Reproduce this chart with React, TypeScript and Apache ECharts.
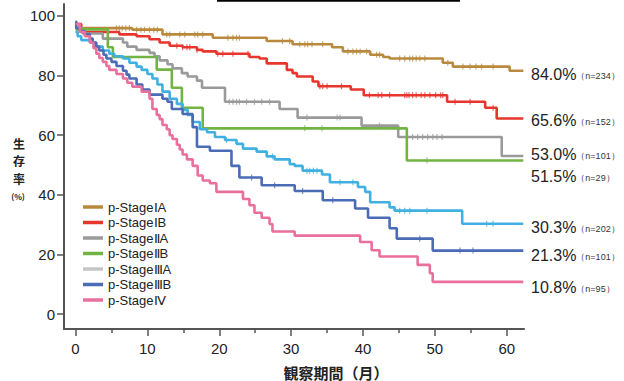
import React, { useEffect, useRef } from "react";
import * as echarts from "echarts";

// ---- data (months, survival %) ----
const END_T = 62.3;
const stageNames = ["p-StageⅠA", "p-StageⅠB", "p-StageⅡA", "p-StageⅡB", "p-StageⅢA", "p-StageⅢB", "p-StageⅣ"];
const lineColors = ["#b98a3e", "#e8352d", "#9a9a9a", "#72b443", "#3fb0e0", "#4a6bb5", "#e96f9c"];
const legendColors = ["#b98a3e", "#e8352d", "#9a9a9a", "#72b443", "#c6c6c6", "#4a6bb5", "#e96f9c"];
const endLabels = ["84.0%", "65.6%", "53.0%", "51.5%", "30.3%", "21.3%", "10.8%"];
const endCounts = ["（n=234）", "（n=152）", "（n=101）", "（n=29）", "（n=202）", "（n=101）", "（n=95）"];
const yTitleChars = ["生", "存", "率"];

const iaT = [0, 0.6, 7.9, 12.1, 19.1, 26.6, 30.2, 35.7, 37.2, 41.0, 42.8, 43.7, 51.1, 52.5, 60.4];
const iaV = [97.3, 95.9, 95.4, 93.8, 92.7, 91.6, 90.5, 89.5, 88.1, 87.0, 86.2, 85.7, 84.3, 83.0, 81.6];
const iaCensor = [5.7, 6.1, 6.5, 7.0, 7.5, 8.5, 9.1, 9.6, 10.3, 10.9, 11.4, 12.7, 13.1, 14.5, 15.2, 16.6, 17.0, 17.7, 21.2, 21.9, 22.4, 22.8, 28.8, 29.8, 31.2, 31.9, 32.3, 32.9, 34.4, 37.9, 38.6, 39.1, 39.6, 40.5, 41.9, 42.3, 45.1, 45.8, 46.5, 46.9, 47.4, 47.9, 48.6, 51.8, 53.9, 54.9, 55.7, 56.5, 58.1];

const ibT = [0, 0.8, 6.1, 8.5, 10.3, 11.7, 13.1, 14.9, 16.9, 17.7, 19.6, 24.2, 25.6, 26.6, 29.4, 30.2, 30.8, 33.0, 33.8, 38.3, 40.1, 51.7, 57.0, 58.6];
const ibV = [97.3, 94.6, 93.8, 93.2, 92.2, 91.1, 90.0, 89.5, 88.6, 88.1, 87.3, 86.2, 85.7, 84.1, 81.9, 80.8, 79.7, 78.0, 76.4, 75.3, 73.4, 71.2, 69.2, 65.6];
const ibCensor = [14.1, 14.9, 15.5, 15.9, 16.9, 19.8, 20.5, 21.9, 24.0, 34.0, 34.4, 35.0, 37.0, 40.9, 42.1, 42.6, 43.7, 45.8, 46.1, 46.4, 46.9, 47.4, 48.1, 48.6, 49.3, 50.1, 50.8, 51.1, 52.8, 54.9, 58.1];

const iiaT = [0, 1.0, 3.8, 6.6, 7.2, 8.5, 10.3, 11.0, 11.7, 12.8, 13.5, 14.8, 15.6, 16.9, 17.6, 20.8, 28.4, 30.9, 39.8, 44.9, 59.3];
const iiaV = [95.9, 94.1, 92.4, 91.1, 89.7, 88.6, 87.6, 86.5, 85.1, 83.8, 82.4, 80.8, 79.7, 78.3, 75.9, 71.2, 68.8, 65.9, 63.2, 59.4, 53.0];
const iiaCensor = [21.4, 21.9, 22.4, 22.8, 23.8, 24.9, 25.9, 27.0, 32.2, 36.4, 36.8, 42.3, 46.9, 47.6, 48.3, 49.0, 49.7, 50.3, 51.0];

const iibT = [0, 4.5, 5.2, 11.3, 13.4, 14.8, 17.7, 46.1];
const iibV = [95.5, 89.5, 86.2, 82.0, 75.9, 69.2, 62.3, 51.5];
const iibCensor = [31.9, 34.3, 48.9];

const iiiaT = [0, 0.3, 0.8, 2.0, 2.7, 3.8, 4.7, 5.4, 6.6, 7.5, 8.5, 9.2, 10.0, 10.7, 11.4, 12.1, 13.1, 14.1, 14.9, 15.6, 16.3, 17.3, 18.3, 19.4, 20.8, 22.4, 23.3, 25.2, 26.6, 27.7, 29.8, 30.5, 31.6, 34.3, 35.4, 39.3, 40.3, 41.0, 43.7, 44.4, 53.8];
const iiiaV = [94.6, 93.2, 91.9, 91.1, 89.7, 88.4, 87.3, 86.5, 85.7, 84.3, 83.0, 81.9, 80.5, 79.0, 77.0, 74.6, 72.2, 70.5, 68.5, 66.8, 64.4, 62.0, 61.0, 59.4, 58.4, 57.1, 55.5, 54.5, 52.9, 51.9, 50.3, 49.7, 48.1, 46.8, 44.2, 42.6, 41.0, 37.5, 35.8, 34.7, 30.3];
const iiiaCensor = [21.0, 27.4, 32.2, 32.6, 33.1, 33.6, 36.8, 38.6, 45.1, 45.8, 46.5, 48.9, 57.2, 58.1];

const iiibT = [0, 0.1, 0.6, 1.3, 2.0, 2.4, 2.9, 3.3, 3.9, 4.3, 5.0, 5.7, 6.6, 7.1, 7.5, 8.5, 9.3, 10.3, 12.1, 12.8, 13.4, 14.9, 16.3, 16.9, 18.7, 21.7, 22.8, 25.9, 30.5, 34.4, 38.9, 40.7, 43.7, 44.7, 49.7];
const iiibV = [98.1, 95.9, 94.9, 93.8, 92.4, 91.1, 89.7, 88.4, 87.0, 85.7, 84.6, 83.2, 81.6, 80.3, 79.0, 77.0, 75.3, 73.6, 72.2, 71.2, 68.8, 67.1, 62.7, 56.1, 54.8, 49.7, 45.8, 43.2, 41.3, 38.2, 35.4, 32.3, 28.8, 25.3, 21.3];
const iiibCensor = [24.5, 27.7, 31.6, 35.8, 47.9, 53.5, 55.3];

const ivT = [0, 0.6, 1.3, 2.0, 2.5, 2.9, 3.3, 3.8, 4.3, 4.7, 5.7, 6.6, 7.2, 7.9, 9.2, 10.3, 10.7, 11.3, 11.7, 12.1, 12.7, 13.1, 13.5, 14.1, 14.5, 14.9, 15.5, 16.3, 17.0, 17.7, 18.7, 19.6, 23.3, 24.2, 24.9, 25.9, 27.0, 27.4, 30.5, 39.6, 41.2, 42.3, 47.6, 49.3, 49.7];
const ivV = [97.3, 94.6, 93.2, 91.1, 89.2, 87.3, 85.9, 84.6, 83.2, 81.9, 80.5, 79.0, 77.6, 76.3, 74.6, 72.2, 68.8, 66.8, 65.4, 63.4, 62.0, 60.0, 58.7, 56.8, 55.2, 53.5, 51.9, 49.7, 46.5, 44.8, 43.9, 41.0, 38.6, 36.5, 34.0, 32.3, 30.2, 27.7, 26.3, 24.2, 21.4, 19.3, 16.5, 13.7, 10.8];
const ivCensor: number[] = [];

const xTickLabels = [0, 10, 20, 30, 40, 50, 60];
const xMinorTicks = [5, 15, 25, 35, 45, 55];
const yTickLabels = [0, 20, 40, 60, 80, 100];

const curves = [
  [iaT, iaV, iaCensor],
  [ibT, ibV, ibCensor],
  [iiaT, iiaV, iiaCensor],
  [iibT, iibV, iibCensor],
  [iiiaT, iiiaV, iiiaCensor],
  [iiibT, iiibV, iiibCensor],
  [ivT, ivV, ivCensor],
];

// label vertical centers (layout only)
const labelY = [74, 120, 154, 176, 227, 255, 287];

const LATIN = "'Liberation Sans', Arial, Helvetica, sans-serif";
const CJK = "'Noto Sans CJK JP', 'Noto Sans', sans-serif";

function stepData(T: number[], V: number[]) {
  const d = T.map((t, i) => [t, V[i]]);
  d.push([END_T, V[V.length - 1]]);
  return d;
}
function valueAt(T: number[], V: number[], t: number) {
  let v = V[0];
  for (let i = 0; i < T.length; i++) if (T[i] <= t) v = V[i];
  return v;
}

export default function App() {
  const ref = useRef<HTMLDivElement>(null);
  useEffect(() => {
    if (!ref.current) return;
    const chart = echarts.init(ref.current, null, { renderer: "svg" });
    const series: any[] = [];
    curves.forEach(([T, V, C], i) => {
      series.push({
        type: "line",
        name: stageNames[i],
        step: "end",
        data: stepData(T as number[], V as number[]),
        showSymbol: false,
        symbol: "none",
        lineStyle: { color: lineColors[i], width: 2.6 },
        itemStyle: { color: lineColors[i] },
        z: 3,
      });
      series.push({
        type: "scatter",
        name: stageNames[i] + "-c",
        data: (C as number[]).map((t) => [t, valueAt(T as number[], V as number[], t)]),
        symbol: "rect",
        symbolSize: [1.2, 6],
        itemStyle: { color: lineColors[i], opacity: 0.75 },
        silent: true,
        z: 4,
      });
    });

    const graphics: any[] = [
      { type: "line", shape: { x1: 217, y1: 0.8, x2: 460, y2: 0.8 }, style: { stroke: "#000", lineWidth: 2 } },
      {
        type: "text",
        x: 18,
        y: 196,
        style: { text: "(%)", font: `bold 8px ${CJK}`, fill: "#222", align: "center", verticalAlign: "middle" },
      },
      {
        type: "text",
        x: 336,
        y: 372,
        style: { text: "観察期間（月）", font: `bold 15px ${CJK}`, fill: "#222", align: "center", verticalAlign: "middle" },
      },
    ];
    yTitleChars.forEach((ch, i) => {
      graphics.push({
        type: "text",
        x: 19,
        y: 143 + i * 17.8,
        style: {
          text: ch,
          font: `bold 12px ${CJK}`,
          fill: "#222",
          align: "center",
          verticalAlign: "middle",
        },
      });
    });
    endLabels.forEach((lab, i) => {
      graphics.push({
        type: "text",
        x: 531,
        y: labelY[i],
        style: {
          text: `{p|${lab}}{n|${endCounts[i]}}`,
          verticalAlign: "middle",
          rich: {
            p: { fontFamily: LATIN, fontSize: 16, fill: "#222", color: "#222" },
            n: { fontFamily: LATIN, fontSize: 9, fill: "#333", color: "#333", padding: [4, 0, 0, 0] },
          },
        },
      });
    });

    chart.setOption({
      animation: false,
      backgroundColor: "#fff",
      grid: { left: 64, right: 100, top: 4, bottom: 52, containLabel: false },
      legend: {
        orient: "vertical",
        left: 83,
        top: 200,
        padding: 0,
        itemGap: 1.5,
        itemWidth: 20,
        itemHeight: 3.5,
        icon: "rect",
        textStyle: { fontFamily: LATIN, fontSize: 13, color: "#222", lineHeight: 14 },
        data: stageNames.map((n, i) => ({ name: n, itemStyle: { color: legendColors[i] } })),
        selectedMode: false,
      },
      xAxis: [
        {
          type: "value",
          min: -1.6,
          max: 62.4,
          position: "bottom",
          axisLine: { show: true, onZero: false, lineStyle: { color: "#555", width: 2 } },
          axisTick: { show: true, customValues: xTickLabels, length: 7, lineStyle: { color: "#555", width: 1.5 } },
          axisLabel: { customValues: xTickLabels, margin: 12, fontFamily: LATIN, fontSize: 15, color: "#222" },
          splitLine: { show: false },
        },
        {
          type: "value",
          min: -1.6,
          max: 62.4,
          position: "bottom",
          axisLine: { show: false, onZero: false },
          axisTick: { show: true, customValues: xMinorTicks, length: 4, lineStyle: { color: "#555", width: 1.5 } },
          axisLabel: { show: false },
          splitLine: { show: false },
        },
      ],
      yAxis: {
        type: "value",
        min: -5,
        max: 104,
        axisLine: { show: true, onZero: false, lineStyle: { color: "#555", width: 2 } },
        axisTick: { show: true, customValues: yTickLabels, length: 7, lineStyle: { color: "#555", width: 1.5 } },
        axisLabel: { customValues: yTickLabels, margin: 9, fontFamily: LATIN, fontSize: 15, color: "#222" },
        splitLine: { show: false },
      },
      graphic: graphics,
      series,
    });
    return () => chart.dispose();
  }, []);
  return (
    <div
      ref={ref}
      style={{ position: "fixed", left: 0, top: 0, width: 624, height: 381, background: "#fff" }}
    />
  );
}
